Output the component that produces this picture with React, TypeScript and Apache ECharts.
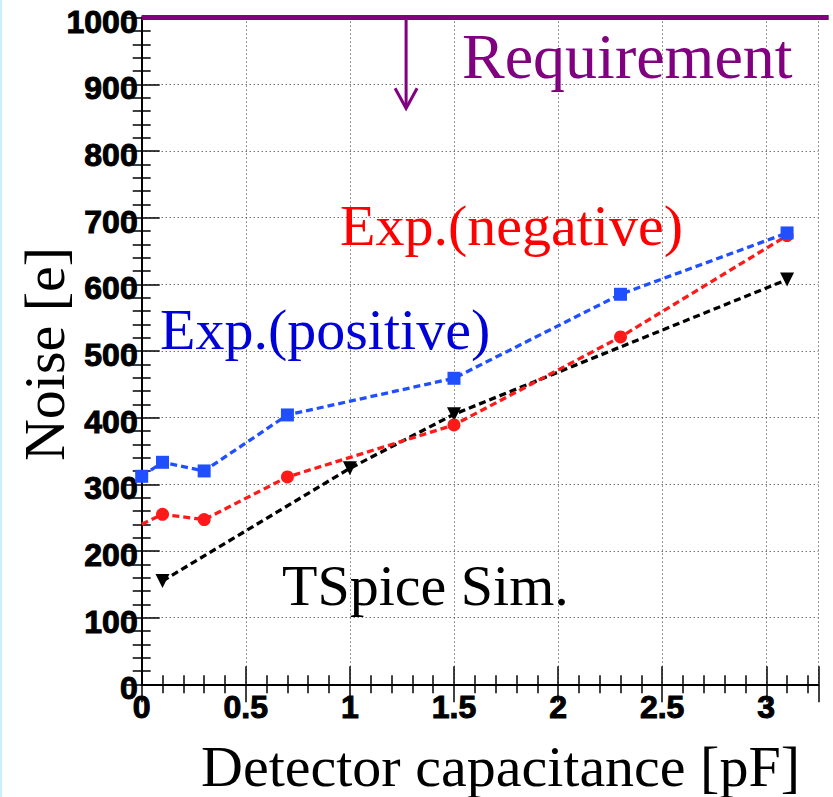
import React, { useEffect, useRef } from 'react';
import * as echarts from 'echarts';

// Detector capacitance [pF] vs noise [e]
const positiveCapacitance = [0, 0.1, 0.3, 0.7, 1.5, 2.3, 3.1];
const positiveNoise = [312, 333, 320, 404, 459, 585, 677];
const negativeCapacitance = [0, 0.1, 0.3, 0.7, 1.5, 2.3, 3.1];
const negativeNoise = [240, 255, 247, 311, 389, 521, 673];
const simCapacitance = [0.1, 1.0, 1.5, 3.1];
const simNoise = [155, 324, 405, 607];
const requirementNoise = 1000;
const requirementArrowX = 1.27;
const requirementArrowEnd = 864;
const requirementLineEnd = 3.3;
const xTickLabels = ['0', '0.5', '1', '1.5', '2', '2.5', '3'];
const yTickLabels = ['0', '100', '200', '300', '400', '500', '600', '700', '800', '900', '1000'];

const PURPLE = '#800080';
const BLUE = '#1f4fff';
const RED = '#ff1a1a';

export default function App() {
  const ref = useRef<HTMLDivElement>(null);
  useEffect(() => {
    if (!ref.current) return;
    const chart = echarts.init(ref.current, undefined, { renderer: 'svg' });
    const labelFont = {
      fontSize: 32,
      fontWeight: 'bold' as const,
      fontFamily: 'Liberation Sans, Arial, sans-serif',
      color: '#000',
      textBorderColor: '#000',
      textBorderWidth: 1,
    };
    const axisLine = { show: true, lineStyle: { color: '#000', width: 2 } };
    const tick = { show: true, inside: true, length: 18, lineStyle: { color: '#000', width: 1.5 } };
    const minor = { show: true, splitNumber: 5, length: 9, lineStyle: { color: '#000', width: 1.5 } };
    const split = { show: true, lineStyle: { color: '#333', width: 1, type: [1, 3] as number[] } };
    const xLabel = (v: number) => {
      const s = String(Math.round(v * 100) / 100);
      return xTickLabels.includes(s) ? s : '';
    };
    const yLabel = (v: number) => {
      const s = String(Math.round(v));
      return yTickLabels.includes(s) ? `{a|${s}}` : '';
    };
    const serif = 'Liberation Serif, Times New Roman, serif';
    chart.setOption({
      animation: false,
      backgroundColor: '#fff',
      grid: { left: 141.7, right: 14.7, top: 17.6, bottom: 112.7, containLabel: false, outerBoundsMode: 'none' },
      xAxis: [
        {
          type: 'value', min: 0, max: 3.25, interval: 0.5, position: 'bottom',
          axisLine, axisTick: tick, minorTick: minor, splitLine: split,
          axisLabel: { ...labelFont, margin: 7, formatter: xLabel, showMaxLabel: false },
        },
        {
          type: 'value', min: 0, max: 3.25, interval: 0.5, position: 'top',
          axisLine, axisTick: tick, minorTick: minor, splitLine: { show: false },
          axisLabel: { show: false },
        },
      ],
      yAxis: [
        {
          type: 'value', min: 0, max: 1000, interval: 100, position: 'left',
          axisLine, axisTick: tick, minorTick: minor, splitLine: split,
          axisLabel: {
            margin: 4, formatter: yLabel,
            rich: { a: { ...labelFont, padding: [8, 0, 0, 0] } },
          },
        },
        {
          type: 'value', min: 0, max: 1000, interval: 100, position: 'right',
          axisLine, axisTick: tick, minorTick: minor, splitLine: { show: false },
          axisLabel: { show: false },
        },
      ],
      series: [
        {
          name: 'TSpice Sim.', type: 'line', xAxisIndex: 0, yAxisIndex: 0,
          data: simCapacitance.map((c, i) => [c, simNoise[i]]),
          symbol: 'triangle', symbolRotate: 180, symbolSize: 14,
          itemStyle: { color: '#000' },
          lineStyle: { color: '#000', width: 3.3, type: [7, 4] },
          z: 3,
        },
        {
          name: 'Exp.(negative)', type: 'line', xAxisIndex: 0, yAxisIndex: 0,
          data: negativeCapacitance.map((c, i) =>
            i === 0 ? { value: [c, negativeNoise[i]], symbol: 'none' } : [c, negativeNoise[i]]
          ),
          symbol: 'circle', symbolSize: 13,
          itemStyle: { color: RED },
          lineStyle: { color: RED, width: 3.3, type: [7, 4] },
          z: 4,
        },
        {
          name: 'Exp.(positive)', type: 'line', xAxisIndex: 0, yAxisIndex: 0,
          data: positiveCapacitance.map((c, i) => [c, positiveNoise[i]]),
          symbol: 'rect', symbolSize: 13,
          itemStyle: { color: BLUE },
          lineStyle: { color: BLUE, width: 3.3, type: [7, 4] },
          z: 5,
        },
        {
          name: 'Requirement', type: 'custom', xAxisIndex: 0, yAxisIndex: 0,
          coordinateSystem: 'cartesian2d', clip: false, silent: true, z: 6,
          data: [[requirementArrowX, requirementNoise]],
          renderItem: (_p: any, api: any) => {
            const left = api.coord([0, requirementNoise]);
            const right = api.coord([requirementLineEnd, requirementNoise]);
            const top = api.coord([requirementArrowX, requirementNoise]);
            const tip = api.coord([requirementArrowX, requirementArrowEnd]);
            return {
              type: 'group',
              children: [
                { type: 'line', shape: { x1: left[0], y1: left[1], x2: right[0], y2: right[1] }, style: { stroke: PURPLE, lineWidth: 5 } },
                { type: 'line', shape: { x1: top[0], y1: top[1], x2: tip[0], y2: tip[1] - 1 }, style: { stroke: PURPLE, lineWidth: 3 } },
                {
                  type: 'polyline',
                  shape: { points: [[tip[0] - 11, tip[1] - 20], [tip[0], tip[1]], [tip[0] + 11, tip[1] - 20]] },
                  style: { stroke: PURPLE, lineWidth: 3, fill: 'none' },
                },
              ],
            };
          },
        },
      ],
      graphic: [
        { type: 'rect', left: 0, top: 0, shape: { x: 0, y: 0, width: 2, height: 797 }, style: { fill: '#c8f0ff' }, z: 10 },
        { type: 'text', x: 462, y: 56, style: { text: 'Requirement', fill: PURPLE, font: `64px ${serif}`, align: 'left', verticalAlign: 'middle' }, z: 10 },
        { type: 'text', x: 340, y: 225, style: { text: 'Exp.(negative)', fill: '#ff0000', font: `58px ${serif}`, align: 'left', verticalAlign: 'middle' }, z: 10 },
        { type: 'text', x: 160, y: 329, style: { text: 'Exp.(positive)', fill: '#0000d8', font: `58px ${serif}`, align: 'left', verticalAlign: 'middle' }, z: 10 },
        { type: 'text', x: 282, y: 585, style: { text: 'TSpice Sim.', fill: '#000', font: `58px ${serif}`, align: 'left', verticalAlign: 'middle' }, z: 10 },
        { type: 'text', x: 800, y: 766, style: { text: 'Detector capacitance [pF]', fill: '#000', font: `58px ${serif}`, align: 'right', verticalAlign: 'middle' }, z: 10 },
        { type: 'text', x: 44, y: 354, rotation: Math.PI / 2, style: { text: 'Noise [e]', fill: '#000', font: `58px ${serif}`, align: 'center', verticalAlign: 'middle' }, z: 10 },
      ],
    });
    return () => chart.dispose();
  }, []);
  return <div ref={ref} style={{ position: 'absolute', left: 0, top: 0, width: 833, height: 797 }} />;
}
